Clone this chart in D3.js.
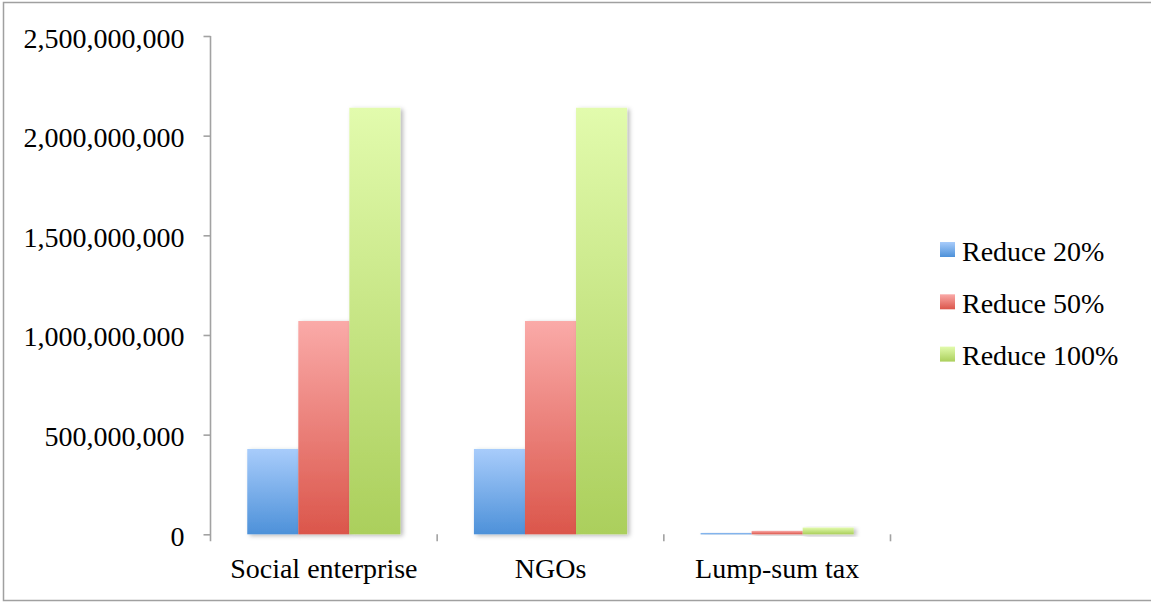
<!DOCTYPE html>
<html>
<head>
<meta charset="utf-8">
<script src="https://cdn.jsdelivr.net/npm/d3@7"></script>
<style>
  html, body { margin: 0; padding: 0; background: #ffffff; }
  svg { display: block; }
  text { font-family: "Liberation Serif", "DejaVu Serif", serif; fill: #000; }
</style>
</head>
<body>
<svg id="chart" width="1151" height="602"></svg>
<script>
// Categories and series values
const categories = ["Social enterprise", "NGOs", "Lump-sum tax"];
const seriesNames = ["Reduce 20%", "Reduce 50%", "Reduce 100%"];
const reduce20 = [428000000, 428000000, 6800000];
const reduce50 = [1070000000, 1070000000, 17000000];
const reduce100 = [2140000000, 2140000000, 34000000];
const yTicks = [0, 500000000, 1000000000, 1500000000, 2000000000, 2500000000];

const seriesValues = [reduce20, reduce50, reduce100];
const gradientStops = [
  ["#a8ccfb", "#4d91d9"],
  ["#faaaa8", "#db564b"],
  ["#e2fbad", "#abcf5c"]
];

const svg = d3.select("#chart");
const W = 1151, H = 602;
const plot = { left: 210.5, right: 890.5, top: 36, bottom: 534.3 };

// Outer frame
svg.append("rect")
  .attr("x", 3.5).attr("y", 2.5)
  .attr("width", W).attr("height", 598)
  .attr("fill", "#fff").attr("stroke", "#a0a0a0").attr("stroke-width", 1.5);

const defs = svg.append("defs");
gradientStops.forEach((stops, i) => {
  const g = defs.append("linearGradient")
    .attr("id", "grad" + i)
    .attr("x1", 0).attr("y1", 0).attr("x2", 0).attr("y2", 1);
  g.append("stop").attr("offset", "0%").attr("stop-color", stops[0]);
  g.append("stop").attr("offset", "100%").attr("stop-color", stops[1]);
});
const shadow = defs.append("filter").attr("id", "barShadow")
  .attr("x", "-20%").attr("y", "-20%").attr("width", "150%").attr("height", "150%");
shadow.append("feDropShadow")
  .attr("dx", 2.5).attr("dy", 1.5).attr("stdDeviation", 2)
  .attr("flood-color", "#000").attr("flood-opacity", 0.28);

const gridShadow = defs.append("filter").attr("id", "lineShadow")
  .attr("x", "-5%").attr("y", "-200%").attr("width", "110%").attr("height", "500%");
gridShadow.append("feDropShadow")
  .attr("dx", 0).attr("dy", 1).attr("stdDeviation", 0.6)
  .attr("flood-color", "#000").attr("flood-opacity", 0.2);

// Scales
const y = d3.scaleLinear().domain([0, 2500000000]).range([plot.bottom, plot.top]);
const x0 = d3.scaleBand().domain(categories).range([plot.left, plot.right])
  .paddingInner(0).paddingOuter(0);
const x1 = d3.scaleBand().domain(seriesNames).range([0, x0.bandwidth()])
  .paddingInner(0).paddingOuter(0.72);

const fmt = d3.format(",");

// Horizontal gridlines
svg.append("g").selectAll("line")
  .data(yTicks.filter(d => d > 0))
  .join("line")
  .attr("x1", plot.left - 7).attr("x2", plot.right)
  .attr("y1", d => y(d)).attr("y2", d => y(d))
  .attr("stroke", "#a2a2a2").attr("stroke-width", 1.6)
  .attr("filter", "url(#lineShadow)");

// Y axis
const yAxis = d3.axisLeft(y).tickValues(yTicks).tickFormat(fmt).tickSize(7).tickPadding(19);
const gy = svg.append("g").attr("transform", `translate(${plot.left},0)`).call(yAxis);
gy.select(".domain").remove();
gy.selectAll(".tick line").attr("stroke", "#a2a2a2").attr("stroke-width", 1.6);
gy.selectAll(".tick text")
  .attr("font-family", "Liberation Serif, DejaVu Serif, serif")
  .attr("font-size", 28).attr("fill", "#000")
  .attr("dy", null).attr("y", 11);
svg.append("line")
  .attr("x1", plot.left).attr("x2", plot.left)
  .attr("y1", plot.top).attr("y2", plot.bottom + 7)
  .attr("stroke", "#a2a2a2").attr("stroke-width", 1.6);

// Bars
const groups = svg.append("g").selectAll("g")
  .data(categories)
  .join("g")
  .attr("transform", d => `translate(${x0(d)},0)`);
groups.selectAll("rect")
  .data((c, ci) => seriesNames.map((s, si) => ({ s, si, v: seriesValues[si][ci] })))
  .join("rect")
  .attr("x", d => x1(d.s))
  .attr("width", x1.bandwidth())
  .attr("y", d => y(d.v))
  .attr("height", d => Math.max(0.8, y(0) - y(d.v)))
  .attr("fill", d => `url(#grad${d.si})`)
  .attr("filter", "url(#barShadow)");

// X axis
const xAxis = d3.axisBottom(x0).tickSize(0).tickPadding(0);
const gx = svg.append("g").attr("transform", `translate(0,${plot.bottom})`).call(xAxis);
gx.select(".domain").remove();
gx.selectAll(".tick text")
  .attr("font-family", "Liberation Serif, DejaVu Serif, serif")
  .attr("font-size", 28).attr("fill", "#000")
  .attr("dy", null).attr("y", 44);
svg.append("line")
  .attr("x1", plot.left).attr("x2", plot.right)
  .attr("y1", plot.bottom).attr("y2", plot.bottom)
  .attr("stroke", "#a2a2a2").attr("stroke-width", 1.6)
  .attr("filter", "url(#lineShadow)");
const boundaries = categories.map(c => x0(c)).concat([plot.right]).slice(1);
svg.append("g").selectAll("line")
  .data(boundaries)
  .join("line")
  .attr("x1", d => d).attr("x2", d => d)
  .attr("y1", plot.bottom).attr("y2", plot.bottom + 7)
  .attr("stroke", "#a2a2a2").attr("stroke-width", 1.6);

// Legend
const legend = svg.append("g").attr("transform", "translate(940,249.5)");
const items = legend.selectAll("g")
  .data(seriesNames)
  .join("g")
  .attr("transform", (d, i) => `translate(0,${i * 52.3})`);
items.append("rect")
  .attr("x", 0).attr("y", -7.5).attr("width", 15).attr("height", 15)
  .attr("fill", (d, i) => `url(#grad${i})`);
items.append("text")
  .attr("x", 22).attr("y", 11)
  .attr("font-size", 28)
  .text(d => d);
</script>
</body>
</html>
